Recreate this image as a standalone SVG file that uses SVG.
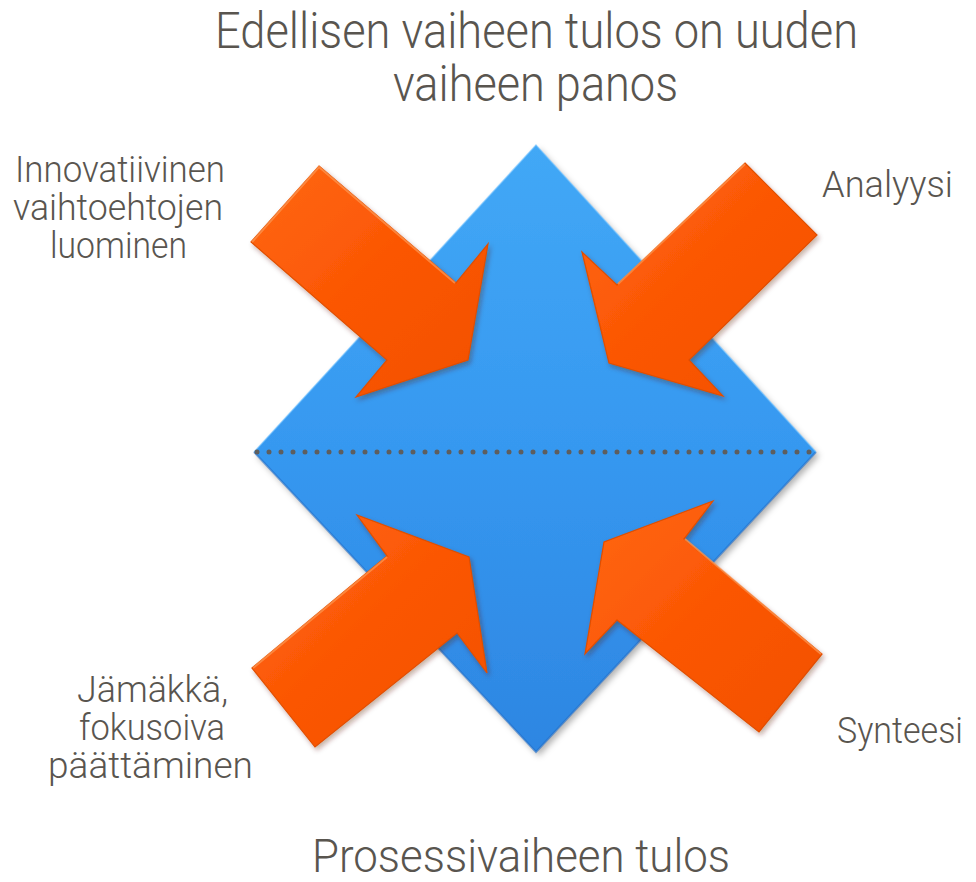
<svg xmlns="http://www.w3.org/2000/svg" width="976" height="882" viewBox="0 0 976 882">
<defs>
  <linearGradient id="blueGrad" x1="0" y1="0" x2="0" y2="1">
    <stop offset="0" stop-color="#42a8f6"/>
    <stop offset="0.5" stop-color="#3698f0"/>
    <stop offset="1" stop-color="#2d86e2"/>
  </linearGradient>
  <linearGradient id="orangeGrad" x1="0" y1="0" x2="1" y2="1">
    <stop offset="0" stop-color="#ff6810"/>
    <stop offset="0.5" stop-color="#fb5604"/>
    <stop offset="1" stop-color="#f25000"/>
  </linearGradient>
  <filter id="shadow" x="-10%" y="-10%" width="125%" height="125%">
    <feDropShadow dx="3" dy="4" stdDeviation="3" flood-color="#000" flood-opacity="0.3"/>
  </filter>
  <filter id="ashadow" x="-15%" y="-15%" width="135%" height="135%">
    <feDropShadow dx="2" dy="3" stdDeviation="2.5" flood-color="#5a2000" flood-opacity="0.35"/>
  </filter>
  <style>
    .lbl { font-family: Roboto, "Liberation Sans", Arial, sans-serif; font-weight: 300; fill: #59554f; text-anchor: middle; }
    .big { font-size: 50px; }
    .bot { font-size: 46px; }
    .sm { font-size: 37px; }
    .arrow { fill: url(#orangeGrad); stroke: #e04e00; stroke-width: 1.2; stroke-linejoin: miter; filter: url(#ashadow); }
    .hl { fill: none; stroke: #ff9a55; stroke-width: 2; stroke-opacity: 0.7; }
  </style>
</defs>
<rect width="976" height="882" fill="#ffffff"/>

<g id="diamond">
  <polygon points="536,145 816,452 536,752 254,452" fill="url(#blueGrad)" filter="url(#shadow)"/>
  <polyline points="254,452 536,752 816,452" fill="none" stroke="#1f6dc6" stroke-width="2" stroke-opacity="0.6"/>
  <polyline points="254,452 536,145 816,452" fill="none" stroke="#6cc0ff" stroke-width="1.5" stroke-opacity="0.6"/>
</g>

<g id="connectors">
  <line x1="257" y1="452" x2="812" y2="452" stroke="#5e5e5e" stroke-width="5" stroke-linecap="round" stroke-dasharray="0 12"/>
</g>

<g id="arrow-top-left">
  <polygon class="arrow" points="319,166 456,283 488,244 468,360 356,397 387,360 251,242"/>
  <polyline class="hl" points="252,242 319,167 455,283"/>
</g>
<g id="arrow-top-right">
  <polygon class="arrow" points="745,163 817,235 689,360 723,396 609,363 582,252 617,285"/>
  <polyline class="hl" points="618,284 745,164"/>
</g>
<g id="arrow-bottom-left">
  <polygon class="arrow" points="252,668 387,556 357,515 469,557 487,673 457,633 315,747"/>
  <polyline class="hl" points="253,668 387,557"/>
</g>
<g id="arrow-bottom-right">
  <polygon class="arrow" points="822,654 759,732 617,620 585,654 604,542 713,501 684,539"/>
  <polyline class="hl" points="685,539 821,654"/>
</g>

<g id="title">
  <text class="lbl big" x="536.5" y="48" textLength="643" lengthAdjust="spacingAndGlyphs">Edellisen vaiheen tulos on uuden</text>
  <text class="lbl big" x="535.5" y="101" textLength="285" lengthAdjust="spacingAndGlyphs">vaiheen panos</text>
</g>

<g id="label-innovatiivinen">
  <text class="lbl sm" x="120" y="182" textLength="210" lengthAdjust="spacingAndGlyphs">Innovatiivinen</text>
  <text class="lbl sm" x="118" y="220" textLength="210" lengthAdjust="spacingAndGlyphs">vaihtoehtojen</text>
  <text class="lbl sm" x="118.5" y="258" textLength="137" lengthAdjust="spacingAndGlyphs">luominen</text>
</g>

<g id="label-analyysi">
  <text class="lbl sm" x="887.5" y="197" textLength="131" lengthAdjust="spacingAndGlyphs">Analyysi</text>
</g>

<g id="label-jamakka">
  <text class="lbl sm" x="152.5" y="702" textLength="151" lengthAdjust="spacingAndGlyphs">Jämäkkä,</text>
  <text class="lbl sm" x="152" y="740" textLength="146" lengthAdjust="spacingAndGlyphs">fokusoiva</text>
  <text class="lbl sm" x="150.5" y="778" textLength="205" lengthAdjust="spacingAndGlyphs">päättäminen</text>
</g>

<g id="label-synteesi">
  <text class="lbl sm" x="900" y="743" textLength="126" lengthAdjust="spacingAndGlyphs">Synteesi</text>
</g>

<g id="label-tulos">
  <text class="lbl bot" x="521" y="872" textLength="418" lengthAdjust="spacingAndGlyphs">Prosessivaiheen tulos</text>
</g>
</svg>
